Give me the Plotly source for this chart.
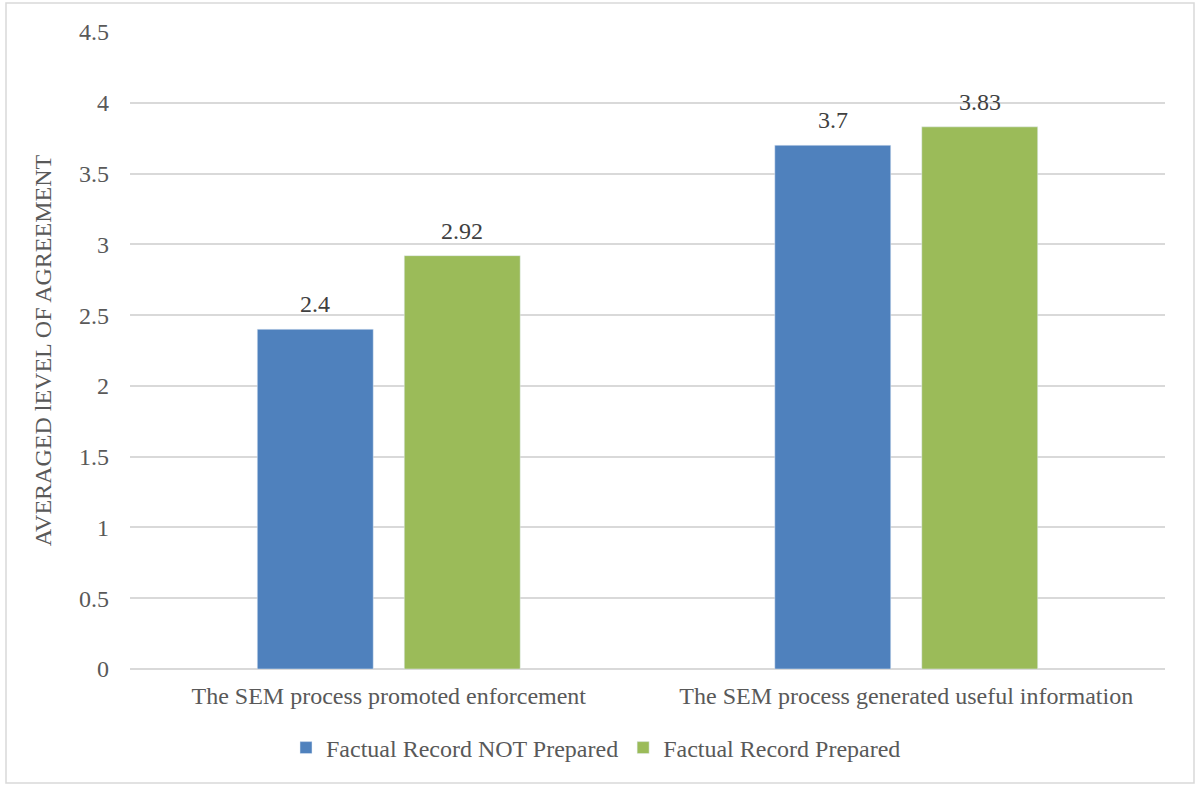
import plotly.graph_objects as go

categories = ["The SEM process promoted enforcement", "The SEM process generated useful information"]
not_prepared = [2.4, 3.7]
prepared = [2.92, 3.83]
not_prepared_labels = ["2.4", "3.7"]
prepared_labels = ["2.92", "3.83"]
y_ticks = [0, 0.5, 1, 1.5, 2, 2.5, 3, 3.5, 4, 4.5]
y_tick_labels = ["0", "0.5", "1", "1.5", "2", "2.5", "3", "3.5", "4", "4.5"]

FONT = "Liberation Serif, Times New Roman, serif"
GREY = "#595959"
FS = 24

fig = go.Figure()
fig.add_trace(go.Bar(
    x=categories, y=not_prepared, name="Factual Record NOT Prepared",
    marker=dict(color="#4F81BD"),
))
fig.add_trace(go.Bar(
    x=categories, y=prepared, name="Factual Record Prepared",
    marker=dict(color="#9BBB59"),
))

# data labels placed above each bar (offset from group centre)
annotations = []
for series, labels, shift in ((not_prepared, not_prepared_labels, -73.5),
                              (prepared, prepared_labels, 73.5)):
    for cat, val, lab in zip(categories, series, labels):
        annotations.append(dict(x=cat, y=val, xref="x", yref="y", text=lab, showarrow=False,
                                xshift=shift, yshift=25, yanchor="middle",
                                font=dict(family=FONT, size=FS, color="#404040")))

L, R, T, B = 130, 31, 32, 116
W, H = 1196, 785
pw, ph = W - L - R, H - T - B

def px_x(x):
    return (x - L) / pw

def px_y(y):
    return (H - B - y) / ph

fig.update_layout(
    width=W, height=H,
    margin=dict(l=L, r=R, t=T, b=B),
    paper_bgcolor="white", plot_bgcolor="white",
    font=dict(family=FONT, size=FS, color=GREY),
    barmode="group", bargap=0.432, bargroupgap=0.211,
    showlegend=True,
    legend=dict(orientation="h", x=px_x(596), xanchor="center", y=px_y(748), yanchor="middle",
                font=dict(family=FONT, size=FS, color=GREY), itemwidth=30, traceorder="normal"),
    xaxis=dict(showgrid=False, showline=False, ticks="", ticklabelstandoff=10,
               tickfont=dict(family=FONT, size=FS, color=GREY)),
    yaxis=dict(range=[0, 4.5], tickvals=y_ticks, ticktext=y_tick_labels,
               showgrid=True, gridcolor="#D9D9D9", gridwidth=1.5,
               zeroline=True, zerolinecolor="#D9D9D9", zerolinewidth=1.5,
               showline=False, ticks="", ticklen=0, ticklabelstandoff=20,
               tickfont=dict(family=FONT, size=FS, color=GREY),
               title=dict(text="AVERAGED lEVEL OF AGREEMENT", standoff=20,
                          font=dict(family=FONT, size=FS, color=GREY))),
    annotations=annotations,
    shapes=[dict(type="rect", xref="paper", yref="paper",
                 x0=px_x(6), x1=px_x(1194), y0=px_y(783), y1=px_y(3),
                 line=dict(color="#D9D9D9", width=1.5), fillcolor="rgba(0,0,0,0)", layer="below")],
)

fig.write_html("out.html", config={"displayModeBar": False},
               post_script="document.body.style.margin='0';document.body.style.overflow='hidden';")
